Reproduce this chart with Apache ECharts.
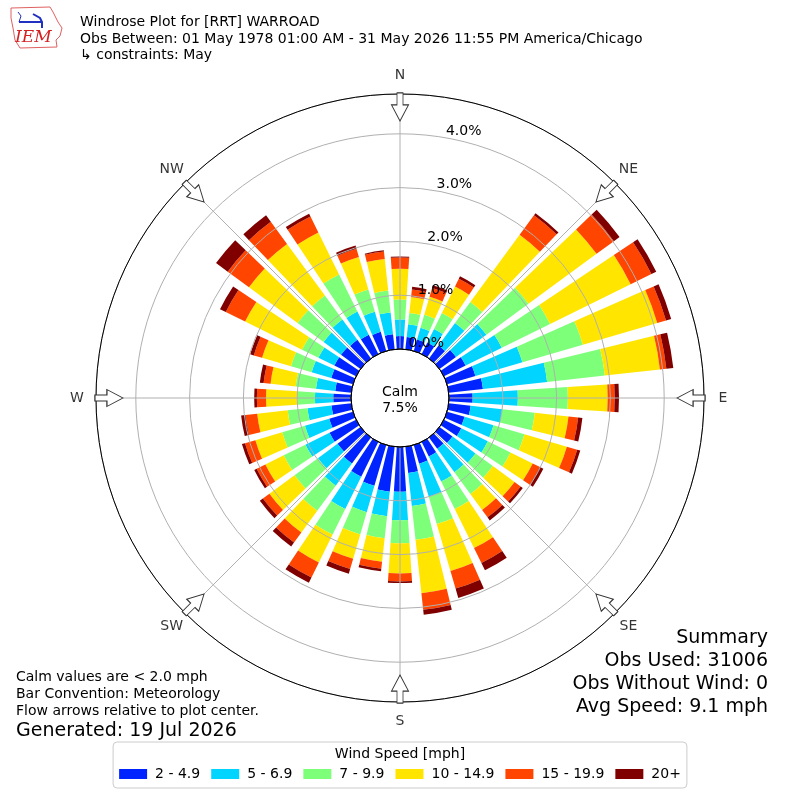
<!DOCTYPE html>
<html>
<head>
<meta charset="utf-8">
<script src="https://cdn.jsdelivr.net/npm/echarts@6/dist/echarts.min.js"></script>
<style>
html,body{margin:0;padding:0;background:#ffffff;}
#chart{width:800px;height:800px;}
</style>
</head>
<body>
<div id="chart"></div>
<script>
// ---------------- data ----------------
const directions = ['0','10','20','30','40','50','60','70','80','90','100','110','120','130','140','150','160','170',
  '180','190','200','210','220','230','240','250','260','270','280','290','300','310','320','330','340','350'];
const speedBins = ['2 - 4.9','5 - 6.9','7 - 9.9','10 - 14.9','15 - 19.9','20+'];
const binColors = ['#0024ff','#00d4ff','#7dff7a','#ffe500','#ff4500','#800000'];

// percent of observations per direction (0..350 deg) for each speed bin
const bin2to5   = [0.24,0.23,0.22,0.24,0.30,0.38,0.45,0.55,0.64,0.44, 0.41,0.34,0.36,0.30,0.26,0.30,0.36,0.49,0.83,0.84, 0.79,0.72,0.60,0.53,0.55,0.46,0.37,0.33,0.30,0.42, 0.45,0.45,0.43,0.40,0.37,0.28];
const bin5to7   = [0.31,0.24,0.23,0.28,0.52,0.70,0.75,0.91,1.20,0.84, 0.59,0.56,0.55,0.53,0.54,0.52,0.64,0.62,0.53,0.46, 0.51,0.67,0.51,0.45,0.50,0.47,0.45,0.34,0.36,0.38, 0.33,0.40,0.47,0.48,0.39,0.41];
const bin7to10  = [0.37,0.21,0.25,0.33,0.48,0.97,1.00,1.17,1.08,0.93, 0.61,0.60,0.47,0.40,0.50,0.57,0.53,0.63,0.43,0.41, 0.43,0.53,0.58,0.54,0.45,0.44,0.37,0.33,0.38,0.40, 0.34,0.60,0.55,0.77,0.43,0.41];
const bin10to15 = [0.57,0.30,0.35,0.55,1.55,1.57,1.67,1.44,1.03,0.74, 0.63,0.82,0.46,0.50,0.37,0.81,0.91,1.00,0.56,0.44, 0.47,0.58,0.50,0.58,0.38,0.52,0.57,0.58,0.47,0.56, 1.18,1.12,1.19,0.87,0.63,0.59];
const bin15to20 = [0.21,0.14,0.17,0.16,0.45,0.40,0.43,0.17,0.12,0.13, 0.18,0.20,0.15,0.14,0.17,0.31,0.34,0.31,0.15,0.13, 0.20,0.31,0.23,0.15,0.18,0.20,0.22,0.17,0.13,0.16, 0.40,0.49,0.51,0.33,0.16,0.14];
const bin20plus = [0.02,0.05,0.05,0.05,0.05,0.13,0.10,0.10,0.13,0.08, 0.08,0.06,0.07,0.05,0.07,0.15,0.18,0.09,0.03,0.05, 0.09,0.11,0.09,0.07,0.05,0.06,0.08,0.05,0.07,0.07, 0.12,0.27,0.15,0.06,0.06,0.02];
const binValues = [bin2to5, bin5to7, bin7to10, bin10to15, bin15to20, bin20plus];

const compassNames  = ['N','NE','E','SE','S','SW','W','NW'];
const compassAngles = [0,45,90,135,180,225,270,315];
const radialTicks   = [0,1,2,3,4];
const radialMax     = 4.74;
const arrowRadius   = 4.5;
const calmPct       = 7.5;

const titleLines = ['Windrose Plot for [RRT] WARROAD',
  'Obs Between: 01 May 1978 01:00 AM - 31 May 2026 11:55 PM America/Chicago',
  '\u21B3 constraints: May'];
const noteLines = ['Calm values are < 2.0 mph','Bar Convention: Meteorology','Flow arrows relative to plot center.'];
const generatedText = 'Generated: 19 Jul 2026';
const summaryLines = ['Summary','Obs Used: 31006','Obs Without Wind: 0','Avg Speed: 9.1 mph'];
const legendTitle = 'Wind Speed [mph]';

// ---------------- chart ----------------
const FONT = 'DejaVu Sans';
const CX = 400, CY = 398, R0 = 49, R1 = 304, RLABEL = 323;
const chart = echarts.init(document.getElementById('chart'), null, {renderer:'canvas'});

const barSeries = speedBins.map((name, i) => ({
  name: name,
  type: 'bar',
  coordinateSystem: 'polar',
  polarIndex: 0,
  stack: 'wind',
  barWidth: '75%',
  data: binValues[i],
  itemStyle: {color: binColors[i]},
  emphasis: {disabled: true},
  z: 2
}));

const arrowPath = 'path://M5.5,0L11.5,0L11.5,12L17,12L8.5,28L0,12L5.5,12Z';

function txt(size, lh) {
  return {fontFamily: FONT, fontSize: size, fontWeight: 'normal', color: '#000', lineHeight: lh};
}
const titles = [
  {text: titleLines.join('\n'), left: 80, top: 14, padding: 0, textStyle: txt(14, 16.7)},
  {text: 'Calm', left: 'center', top: 384, padding: 0, textStyle: txt(14, 17)},
  {text: calmPct.toFixed(1) + '%', left: 'center', top: 400, padding: 0, textStyle: txt(14, 17)},
  {text: noteLines.join('\n'), left: 16, top: 669, padding: 0, textStyle: txt(14, 17)},
  {text: generatedText, left: 16, top: 720, padding: 0, textStyle: txt(19, 23)},
  {text: legendTitle, left: 'center', top: 746, padding: 0, z: 10, textStyle: txt(14, 17)}
].concat(summaryLines.map((s, i) => ({text: s, right: 32, top: 627 + 23 * i, padding: 0, textStyle: txt(19, 23)})));

const hiddenAxis = {axisLine: {show: false}, axisTick: {show: false}, axisLabel: {show: false}, splitLine: {show: false}};

const option = {
  animation: false,
  backgroundColor: '#ffffff',
  textStyle: {fontFamily: FONT},
  title: titles,
  legend: {
    data: speedBins,
    orient: 'horizontal',
    left: 'center',
    top: 742,
    itemWidth: 28,
    itemHeight: 10,
    itemGap: 11,
    icon: 'rect',
    padding: [25, 6, 7, 6],
    borderColor: '#cccccc',
    borderWidth: 1,
    borderRadius: 4,
    backgroundColor: '#ffffff',
    selectedMode: false,
    textStyle: {fontFamily: FONT, fontSize: 14, color: '#000', padding: [0, 0, 0, 3]}
  },
  polar: [
    {center: [CX, CY], radius: [R0, R1]},      // 0 bars
    {center: [CX, CY], radius: [R0, R1]},      // 1 spokes, outer circle, arrows
    {center: [CX, CY], radius: [R0, R1]},      // 2 rings + radial labels
    {center: [CX, CY], radius: R0},            // 3 calm circle
    {center: [CX, CY], radius: [R0, RLABEL]}   // 4 compass labels
  ],
  angleAxis: [
    Object.assign({polarIndex: 0, type: 'category', data: directions, startAngle: 95, clockwise: true}, hiddenAxis),
    {polarIndex: 1, type: 'value', min: 0, max: 360, interval: 45, startAngle: 90, clockwise: true, z: 5,
     axisLine: {show: true, lineStyle: {color: '#000', width: 1}},
     axisTick: {show: false},
     axisLabel: {show: false},
     splitLine: {show: true, lineStyle: {color: '#b0b0b0', width: 1}}},
    Object.assign({polarIndex: 2, type: 'value', min: 0, max: 360, startAngle: 80, clockwise: true}, hiddenAxis),
    {polarIndex: 3, type: 'value', min: 0, max: 360, startAngle: 90, clockwise: true, z: 6,
     axisLine: {show: true, lineStyle: {color: '#000', width: 1}},
     axisTick: {show: false}, axisLabel: {show: false}, splitLine: {show: false}},
    Object.assign({polarIndex: 4, type: 'value', min: 0, max: 360, startAngle: 90, clockwise: true}, hiddenAxis)
  ],
  radiusAxis: [
    Object.assign({polarIndex: 0, type: 'value', min: 0, max: radialMax}, hiddenAxis),
    Object.assign({polarIndex: 1, type: 'value', min: 0, max: radialMax}, hiddenAxis),
    {polarIndex: 2, type: 'value', min: 0, max: radialMax, interval: 1, z: 4,
     axisLine: {show: false}, axisTick: {show: false},
     axisLabel: {show: true, margin: 0, align: 'left', verticalAlign: 'bottom', lineHeight: 12, fontSize: 14, color: '#000', fontFamily: FONT,
       formatter: function (v) { return radialTicks.indexOf(v) >= 0 ? v.toFixed(1) + '%' : ''; }},
     splitLine: {show: true, lineStyle: {color: '#b0b0b0', width: 1}}},
    Object.assign({polarIndex: 3, type: 'value', min: 0, max: 1}, hiddenAxis),
    Object.assign({polarIndex: 4, type: 'value', min: 0, max: 1}, hiddenAxis)
  ],
  graphic: [
    {type: 'polyline', z: 20, shape: {points: [[11,8],[50,7],[53,12],[58,22],[62,28],[60,36],[56,40],[57,47],[20,48],[15,40],[13,28],[11,18],[11,8]]},
     style: {stroke: '#e06060', lineWidth: 1, fill: 'none'}},
    {type: 'text', left: 15, top: 29, z: 21,
     style: {text: 'IEM', fill: '#d42020', font: 'italic 17px "DejaVu Serif"'}},
    {type: 'polyline', z: 21, shape: {points: [[19,22],[42,22]]}, style: {stroke: '#2030c0', lineWidth: 2}},
    {type: 'polyline', z: 21, shape: {points: [[18,12],[21,16],[19,22]]}, style: {stroke: '#2030c0', lineWidth: 1}},
    {type: 'polyline', z: 21, shape: {points: [[33,14],[40,18],[42,22],[42,28]]}, style: {stroke: '#2030c0', lineWidth: 2}}
  ],
  series: barSeries.concat([
    {
      type: 'scatter',
      coordinateSystem: 'polar',
      polarIndex: 1,
      symbol: arrowPath,
      symbolSize: [17, 28],
      z: 8,
      silent: true,
      itemStyle: {color: '#ffffff', borderColor: '#333333', borderWidth: 1, opacity: 1},
      data: compassAngles.map(a => ({value: [arrowRadius, a], symbolRotate: -a}))
    },
    {
      type: 'scatter',
      coordinateSystem: 'polar',
      polarIndex: 4,
      symbol: 'circle',
      symbolSize: 2,
      z: 8,
      silent: true,
      itemStyle: {color: 'rgba(0,0,0,0)'},
      label: {show: true, position: 'inside', fontFamily: FONT, fontSize: 14, color: '#000',
        formatter: function (p) { return p.name; }},
      data: compassAngles.map((a, i) => ({name: compassNames[i], value: [1, a]}))
    }
  ])
};
chart.setOption(option);
</script>
</body>
</html>
